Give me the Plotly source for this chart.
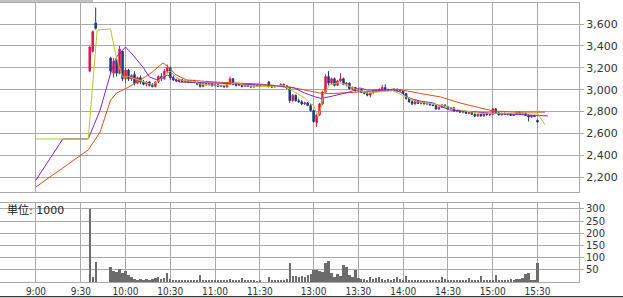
import plotly.graph_objects as go

# ---------------- data ----------------
bar_times = [
    "9:36", "9:38", "9:40",
    "9:50", "9:52", "9:54", "9:56", "9:58", "10:00", "10:02", "10:04", "10:06", "10:08",
    "10:10", "10:12", "10:14", "10:16", "10:18", "10:20", "10:22", "10:24", "10:26", "10:28",
    "10:30", "10:32", "10:34", "10:36", "10:38", "10:40", "10:42", "10:44", "10:46", "10:48",
    "10:50", "10:52", "10:54", "10:56", "10:58", "11:00", "11:02", "11:04", "11:06", "11:08",
    "11:10", "11:12", "11:14", "11:16", "11:18", "11:20", "11:22", "11:24", "11:26", "11:28",
    "11:30",
    "12:30", "12:32", "12:34", "12:36", "12:38", "12:40", "12:42", "12:44", "12:46", "12:48",
    "12:50", "12:52", "12:54", "12:56", "12:58", "13:00", "13:02", "13:04", "13:06", "13:08",
    "13:10", "13:12", "13:14", "13:16", "13:18", "13:20", "13:22", "13:24", "13:26", "13:28",
    "13:30", "13:32", "13:34", "13:36", "13:38", "13:40", "13:42", "13:44", "13:46", "13:48",
    "13:50", "13:52", "13:54", "13:56", "13:58", "14:00", "14:02", "14:04", "14:06", "14:08",
    "14:10", "14:12", "14:14", "14:16", "14:18", "14:20", "14:22", "14:24", "14:26", "14:28",
    "14:30", "14:32", "14:34", "14:36", "14:38", "14:40", "14:42", "14:44", "14:46", "14:48",
    "14:50", "14:52", "14:54", "14:56", "14:58", "15:00", "15:02", "15:04", "15:06", "15:08",
    "15:10", "15:12", "15:14", "15:16", "15:18", "15:20", "15:22", "15:24", "15:26", "15:28",
    "15:30",
]

opens = [
    3170, 3350, 3610,
    3290, 3150, 3260, 3150, 3350, 3100, 3180, 3100, 3140, 3060,
    3110, 3070, 3050, 3070, 3040, 3030, 3070, 3120, 3100, 3170,
    3200, 3110, 3090, 3080, 3090, 3075, 3085, 3070, 3085, 3065,
    3060, 3030, 3055, 3045, 3055, 3035, 3045, 3030, 3040, 3025,
    3050, 3100, 3050, 3040, 3045, 3030, 3040, 3030, 3025, 3035,
    3030,
    3070, 3030, 3025, 3030, 3035, 3050, 3035, 3010, 2900, 2950,
    2900, 2890, 2870, 2880, 2855, 2810, 2700, 2770, 2870, 2980,
    3120, 3060, 3100, 3040, 3080, 3100, 3050, 3060, 3010, 3020,
    2990, 3000, 2975, 2965, 2950, 2970, 2990, 2985, 3005, 3020,
    3000, 2995, 3000, 3005, 2995, 2990, 2965, 2920, 2890, 2870,
    2900, 2875, 2885, 2870, 2875, 2860, 2855, 2825, 2840, 2860,
    2845, 2830, 2835, 2805, 2810, 2795, 2800, 2785, 2795, 2775,
    2760, 2775, 2760, 2785, 2770, 2775, 2825, 2790, 2770, 2785,
    2775, 2780, 2765, 2775, 2795, 2780, 2785, 2765, 2750, 2765,
    2720,
]

highs = [
    3400, 3540, 3750,
    3300, 3290, 3280, 3400, 3360, 3200, 3190, 3140, 3170, 3120,
    3130, 3090, 3080, 3080, 3060, 3080, 3130, 3150, 3190, 3230,
    3210, 3130, 3100, 3100, 3100, 3095, 3090, 3090, 3090, 3075,
    3070, 3060, 3060, 3060, 3060, 3050, 3050, 3045, 3045, 3060,
    3120, 3105, 3060, 3050, 3050, 3045, 3045, 3040, 3040, 3040,
    3040,
    3080, 3040, 3035, 3040, 3055, 3055, 3040, 3020, 2960, 2955,
    2920, 2905, 2890, 2885, 2870, 2815, 2780, 2880, 2990, 3140,
    3170, 3110, 3110, 3090, 3150, 3110, 3070, 3065, 3030, 3025,
    3010, 3005, 2990, 2980, 2975, 2995, 3000, 3010, 3045, 3050,
    3010, 3005, 3010, 3010, 3000, 2995, 2970, 2930, 2910, 2905,
    2905, 2890, 2890, 2880, 2880, 2870, 2860, 2845, 2870, 2865,
    2850, 2840, 2840, 2815, 2815, 2805, 2805, 2800, 2800, 2785,
    2780, 2780, 2790, 2790, 2780, 2835, 2830, 2795, 2790, 2790,
    2785, 2785, 2780, 2800, 2800, 2790, 2790, 2775, 2770, 2770,
    2730,
]

lows = [
    3160, 3340, 3550,
    3140, 3110, 3120, 3140, 3080, 3060, 3080, 3080, 3040, 3050,
    3050, 3040, 3030, 3030, 3020, 3020, 3060, 3080, 3090, 3150,
    3090, 3080, 3070, 3070, 3070, 3065, 3060, 3065, 3060, 3040,
    3020, 3025, 3040, 3040, 3030, 3030, 3025, 3025, 3020, 3020,
    3045, 3040, 3030, 3035, 3020, 3025, 3025, 3020, 3020, 3025,
    3025,
    3020, 3015, 3020, 3025, 3030, 3030, 3010, 2880, 2890, 2890,
    2880, 2860, 2860, 2850, 2800, 2700, 2660, 2760, 2860, 2970,
    3040, 3050, 3030, 3035, 3070, 3040, 3030, 3000, 3000, 2985,
    2980, 2970, 2960, 2940, 2930, 2965, 2980, 2980, 2995, 2990,
    2990, 2990, 2995, 2990, 2985, 2960, 2910, 2880, 2860, 2865,
    2870, 2865, 2865, 2860, 2855, 2850, 2815, 2815, 2835, 2840,
    2825, 2820, 2800, 2795, 2790, 2785, 2780, 2780, 2770, 2750,
    2755, 2755, 2755, 2765, 2760, 2770, 2780, 2765, 2765, 2770,
    2765, 2760, 2760, 2770, 2775, 2770, 2760, 2710, 2745, 2750,
    2700,
]

closes = [
    3390, 3530, 3560,
    3170, 3260, 3150, 3370, 3100, 3180, 3100, 3130, 3060, 3110,
    3070, 3050, 3070, 3040, 3030, 3070, 3120, 3100, 3170, 3200,
    3110, 3090, 3080, 3090, 3075, 3085, 3070, 3085, 3065, 3050,
    3030, 3055, 3045, 3055, 3035, 3045, 3030, 3040, 3025, 3050,
    3100, 3050, 3040, 3045, 3030, 3040, 3030, 3025, 3035, 3030,
    3035,
    3030, 3025, 3030, 3035, 3050, 3035, 3015, 2900, 2950, 2900,
    2890, 2870, 2880, 2855, 2810, 2710, 2770, 2870, 2980, 3120,
    3060, 3100, 3040, 3080, 3100, 3050, 3060, 3010, 3020, 2990,
    3000, 2975, 2965, 2950, 2970, 2990, 2985, 3005, 3020, 3000,
    2995, 3000, 3005, 2995, 2990, 2965, 2920, 2890, 2870, 2900,
    2875, 2885, 2870, 2875, 2860, 2855, 2825, 2840, 2860, 2845,
    2830, 2835, 2805, 2810, 2795, 2800, 2785, 2795, 2775, 2760,
    2775, 2760, 2785, 2770, 2775, 2825, 2790, 2770, 2785, 2775,
    2780, 2765, 2775, 2795, 2780, 2785, 2765, 2750, 2765, 2755,
    2705,
]

volumes = [
    296, 18, 80,
    60, 45, 40, 50, 35, 42, 28, 18, 12, 8,
    10, 8, 12, 6, 10, 14, 20, 12, 15, 37,
    10, 5, 4, 6, 3, 5, 4, 6, 3, 8,
    26, 6, 4, 5, 7, 4, 3, 5, 4, 8,
    10, 6, 3, 4, 16, 5, 3, 4, 3, 2,
    3,
    20, 8, 5, 4, 8, 5, 10, 78, 22, 25,
    20, 24, 18, 26, 30, 46, 48, 45, 40, 78,
    84, 34, 20, 30, 25, 68, 60, 27, 20, 46,
    14, 10, 12, 8, 19, 12, 15, 19, 10, 8,
    10, 8, 12, 19, 10, 8, 23, 8, 6, 5,
    8, 6, 4, 5, 4, 6, 5, 8, 19, 12,
    5, 6, 8, 6, 5, 7, 6, 14, 6, 8,
    5, 23, 6, 8, 7, 5, 26, 8, 6, 5,
    8, 10, 8, 12, 10, 14, 30, 35, 8, 3,
    78,
]

ma_short_times = [
    "9:00", "9:35", "9:41", "9:50", "9:51", "9:54", "9:56", "9:58", "10:02", "10:06",
    "10:10", "10:14", "10:18", "10:22", "10:26", "10:30", "10:34", "10:38", "10:42", "10:46",
    "10:50", "10:55", "11:00", "11:05", "11:10", "11:15", "11:20", "11:25", "11:30", "12:34",
    "12:40", "12:47", "12:54", "12:58", "13:00", "13:03", "13:05", "13:07", "13:11", "13:17",
    "13:22", "13:28", "13:36", "13:44", "13:53", "14:02", "14:09", "14:20", "14:25", "14:38",
    "14:51", "15:00", "15:11", "15:25", "15:30", "15:35",
]
ma_short_values = [
    2550, 2550, 3545, 3555, 3480, 3290, 3200, 3115, 3120, 3100,
    3080, 3065, 3045, 3080, 3130, 3170, 3110, 3085, 3080, 3075,
    3050, 3045, 3040, 3035, 3050, 3065, 3035, 3030, 3030, 3030,
    3040, 2980, 2925, 2870, 2860, 2750, 2840, 2970, 3045, 3065,
    3045, 3005, 2970, 2980, 2990, 2935, 2890, 2870, 2860, 2815,
    2785, 2785, 2785, 2787, 2787, 2680,
]

ma_mid_times = [
    "9:00", "9:18", "9:35", "9:43", "9:50", "9:54", "10:00", "10:05", "10:12", "10:16",
    "10:21", "10:28", "10:32", "10:36", "11:00", "11:30", "12:30", "12:47", "12:54", "13:01",
    "13:05", "13:13", "13:24", "13:31", "13:36", "13:44", "13:53", "13:58", "14:04", "14:11",
    "14:20", "14:31", "14:45", "14:58", "15:11", "15:25", "15:37",
]
ma_mid_values = [
    2175, 2550, 2550, 2815, 3150, 3300, 3390, 3317, 3200, 3116,
    3090, 3134, 3107, 3070, 3061, 3043, 3040, 3016, 2970, 2935,
    2920, 2943, 2979, 3016, 2997, 2997, 2997, 2979, 2924, 2897,
    2879, 2815, 2797, 2787, 2778, 2769, 2760,
]

ma_long_times = [
    "9:00", "9:35", "9:43", "9:50", "9:54", "10:01", "10:10", "10:18", "10:25", "10:28",
    "10:34", "10:41", "11:00", "11:30", "12:44", "13:01", "13:04", "13:13", "13:26", "13:44",
    "13:53", "14:02", "14:11", "14:25", "14:38", "14:51", "15:00", "15:13", "15:25", "15:35",
]
ma_long_values = [
    2112, 2450, 2614, 2906, 2970, 3016, 3089, 3162, 3244, 3216,
    3134, 3089, 3070, 3052, 3025, 2979, 2970, 2965, 2975, 2990,
    3005, 2990, 2967, 2934, 2879, 2833, 2806, 2797, 2795, 2795,
]

tick_labels = ["9:00", "9:30", "10:00", "10:30", "11:00", "11:30",
               "13:00", "13:30", "14:00", "14:30", "15:00", "15:30"]
price_ticks = [2200, 2400, 2600, 2800, 3000, 3200, 3400, 3600]
volume_ticks = [50, 100, 150, 200, 250, 300]

n = len(bar_times)
assert all(len(a) == n for a in (opens, highs, lows, closes, volumes)), \
    [len(a) for a in (bar_times, opens, highs, lows, closes, volumes)]
assert len(ma_short_times) == len(ma_short_values)
assert len(ma_mid_times) == len(ma_mid_values)
assert len(ma_long_times) == len(ma_long_values)


# session axis: lunch break compressed (afternoon starts at 12:30)
def pos(t):
    h, m = (int(v) for v in t.split(":"))
    mins = (h - 9) * 60 + m
    if mins >= 210:
        mins -= 54
    return mins


bx = [pos(t) for t in bar_times]
tickvals = [pos(t) for t in tick_labels]

GRID = "#a9a9a9"
TXT = "#333333"
UP = "#d81b4c"
DOWN = "#1c3a86"

fig = go.Figure()

fig.add_trace(go.Candlestick(
    x=bx, open=opens, high=highs, low=lows, close=closes,
    xaxis="x", yaxis="y",
    increasing=dict(line=dict(color=UP, width=1), fillcolor=UP),
    decreasing=dict(line=dict(color=DOWN, width=1), fillcolor=DOWN),
    whiskerwidth=0, showlegend=False, hoverinfo="skip",
))

for tms, vals, col in [
    (ma_long_times, ma_long_values, "#d9501e"),
    (ma_mid_times, ma_mid_values, "#8a22d0"),
    (ma_short_times, ma_short_values, "#b4c828"),
]:
    fig.add_trace(go.Scatter(
        x=[pos(t) for t in tms], y=vals, mode="lines",
        line=dict(color=col, width=1), xaxis="x", yaxis="y",
        showlegend=False, hoverinfo="skip",
    ))

fig.add_trace(go.Bar(
    x=bx, y=volumes, width=1.5, marker=dict(color="#6c6c6c", line=dict(width=0)),
    xaxis="x2", yaxis="y2", showlegend=False, hoverinfo="skip",
))

x_range = [-24.1, 363.8]
common_x = dict(range=x_range, tickvals=tickvals, showgrid=True, gridcolor=GRID, gridwidth=1,
                zeroline=False, showline=True, mirror=True, linecolor=GRID, linewidth=1)

fig.update_layout(
    width=623, height=298,
    margin=dict(l=0, r=44, t=3, b=16),
    paper_bgcolor="white", plot_bgcolor="white",
    font=dict(family="DejaVu Sans, Noto Sans CJK JP", color=TXT, size=11),
    bargap=0,
    xaxis=dict(domain=[0, 1], anchor="y", showticklabels=False, ticks="",
               rangeslider=dict(visible=False), **common_x),
    yaxis=dict(domain=[0.3215, 1], anchor="x", side="right", range=[2063, 3792],
               tickvals=price_ticks, tickformat=",", ticks="outside", ticklen=4,
               tickcolor=GRID, showgrid=True, gridcolor=GRID, zeroline=False,
               showline=True, mirror=True, linecolor=GRID,
               tickfont=dict(size=11, color=TXT)),
    xaxis2=dict(domain=[0, 1], anchor="y2", ticktext=tick_labels, showticklabels=True,
                ticks="", tickfont=dict(family="DejaVu Sans Condensed, DejaVu Sans", size=10, color=TXT),
                **common_x),
    yaxis2=dict(domain=[0, 0.282], anchor="x2", side="right", range=[0, 322.5],
                tickvals=volume_ticks, ticks="outside", ticklen=4, tickcolor=GRID,
                showgrid=True, gridcolor=GRID, zeroline=False,
                showline=True, mirror=True, linecolor=GRID,
                tickfont=dict(size=10, color=TXT)),
    annotations=[dict(
        text="単位: 1000", xref="paper", yref="paper", x=0.008, y=0.258,
        xanchor="left", yanchor="middle", showarrow=False,
        font=dict(size=11, color="#222222", family="DejaVu Sans, Noto Sans CJK JP"),
    )],
    shapes=[
        dict(type="line", xref="paper", yref="paper", x0=0, x1=623 / 579,
             y0=-0.0527, y1=-0.0527, line=dict(color="#000000", width=1)),
        dict(type="line", xref="paper", yref="paper", x0=0, x1=93 / 579,
             y0=1.0072, y1=1.0072, line=dict(color="#888888", width=1)),
    ],
)

fig.write_html("out.html")
